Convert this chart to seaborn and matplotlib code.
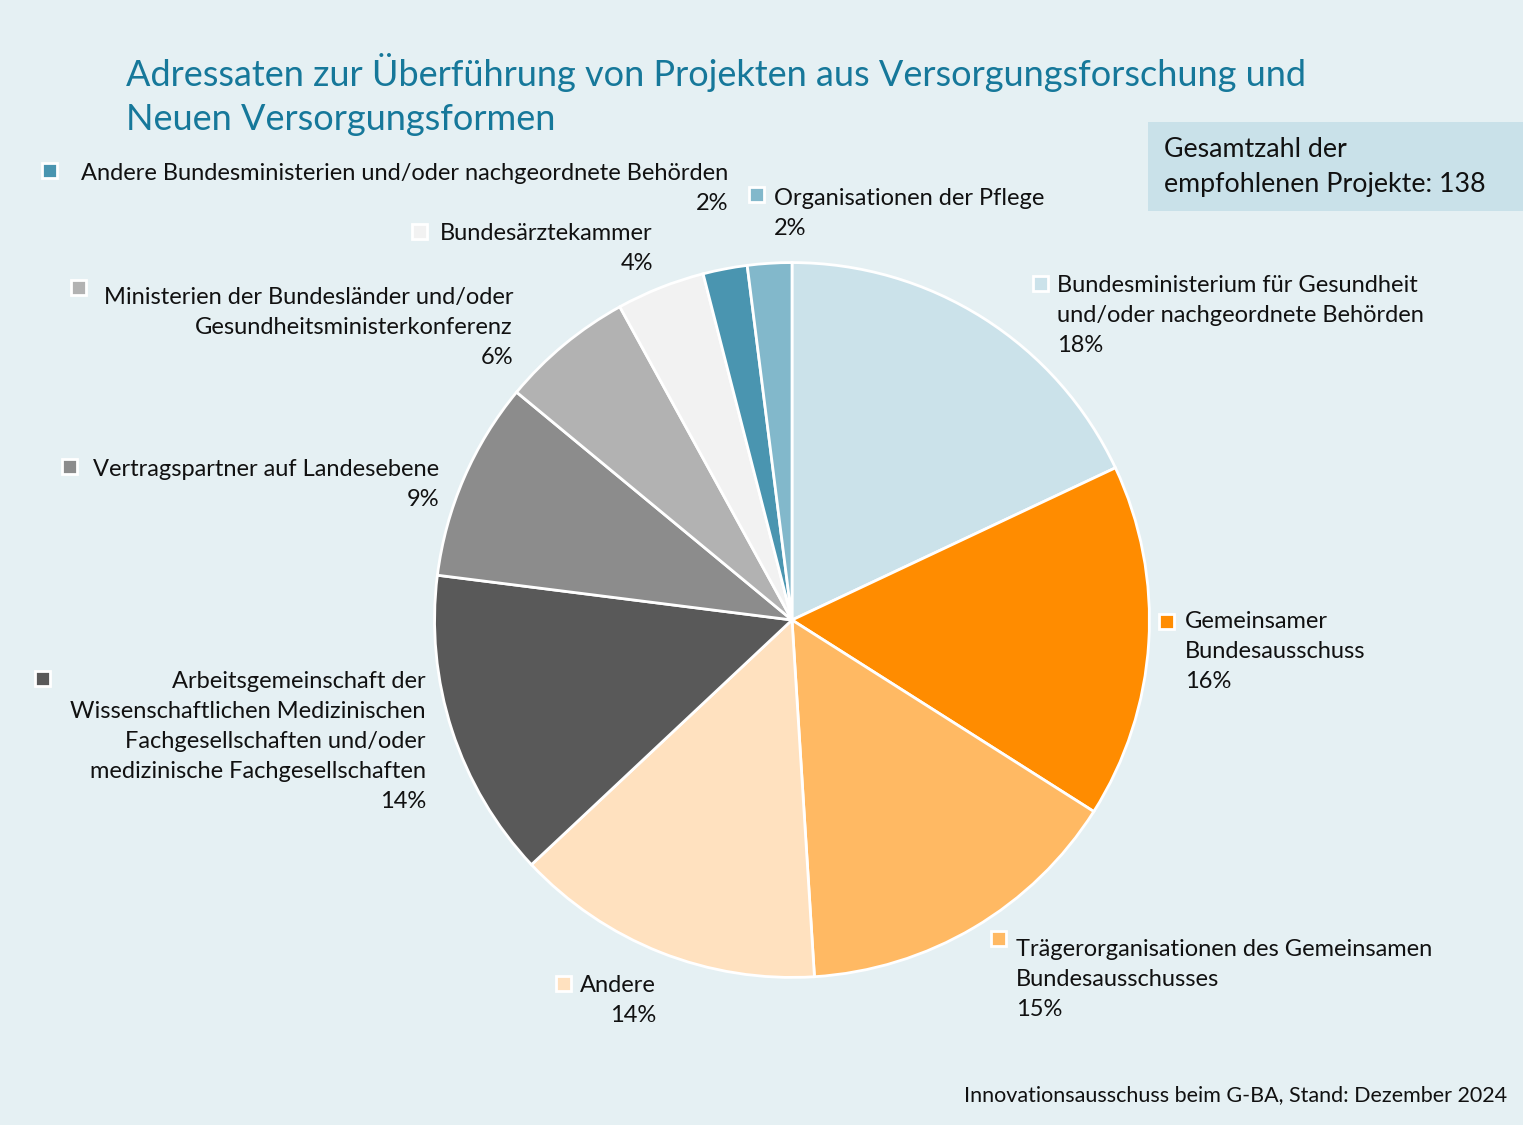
import matplotlib.pyplot as plt
from matplotlib.patches import Rectangle
import seaborn as sns

# data (share of the 138 recommended projects, in %)
categories = [
    'Bundesministerium für Gesundheit\nund/oder nachgeordnete Behörden',
    'Gemeinsamer\nBundesausschuss',
    'Trägerorganisationen des Gemeinsamen\nBundesausschusses',
    'Andere',
    'Arbeitsgemeinschaft der\nWissenschaftlichen Medizinischen\nFachgesellschaften und/oder\nmedizinische Fachgesellschaften',
    'Vertragspartner auf Landesebene',
    'Ministerien der Bundesländer und/oder\nGesundheitsministerkonferenz',
    'Bundesärztekammer',
    'Andere Bundesministerien und/oder nachgeordnete Behörden',
    'Organisationen der Pflege',
]
shares = [18, 16, 15, 14, 14, 9, 6, 4, 2, 2]
slice_colors = ['#cbe2ea', '#ff8c00', '#ffb963', '#ffe1bf', '#595959',
                '#8c8c8c', '#b2b2b2', '#f2f2f2', '#4a95b0', '#82b8cb']

title = 'Adressaten zur Überführung von Projekten aus Versorgungsforschung und\nNeuen Versorgungsformen'
total_note = 'Gesamtzahl der\nempfohlenen Projekte: 138'
source_note = 'Innovationsausschuss beim G-BA, Stand: Dezember 2024'

# label layout in pixels: marker centre, text anchor x, first baseline, alignment
label_layout = [
    ((1040, 283), 1057, 292, 'left'),
    ((1166, 621), 1185, 628, 'left'),
    ((998, 938), 1016, 956, 'left'),
    ((563, 983), 656, 992, 'right'),
    ((42, 678), 426, 688, 'right'),
    ((69, 466), 439, 476, 'right'),
    ((78, 288), 513, 304, 'right'),
    ((419, 231), 653, 240, 'right'),
    ((49, 170), 728, 180, 'right'),
    ((756, 194), 774, 205, 'left'),
]

W, H = 1523, 1125
BG = '#e5f0f3'
TXT = '#111111'

sns.set_theme(style='white', rc={'figure.facecolor': BG, 'axes.facecolor': BG,
                                 'savefig.facecolor': BG})
plt.rcParams['font.family'] = ['Lato', 'DejaVu Sans']


def px(x, y):
    '''pixel position (origin top-left) to figure fraction'''
    return x / W, 1 - y / H


fig = plt.figure(figsize=(W / 100, H / 100), dpi=100)

# pie centred at (792, 620), radius ~357 px
cx, cy, r = 792, 620, 361
ax = fig.add_axes([(cx - r) / W, (H - cy - r) / H, 2 * r / W, 2 * r / H])
ax.pie(shares, colors=slice_colors, startangle=90, counterclock=False,
       radius=1, wedgeprops=dict(edgecolor='white', linewidth=2))
ax.set_xlim(-1.01, 1.01)
ax.set_ylim(-1.01, 1.01)
ax.axis('off')

# title
tx, ty = px(126, 86)
fig.text(tx, ty, title.split('\n')[0], fontsize=26, color='#16789a', ha='left', va='baseline')
tx, ty = px(126, 130)
fig.text(tx, ty, title.split('\n')[1], fontsize=26, color='#16789a', ha='left', va='baseline')

# total box
bx, by = px(1148, 211)
fig.add_artist(Rectangle((bx, by), (W - 1148) / W, (211 - 122) / H,
                         transform=fig.transFigure, facecolor='#c9e1e9', edgecolor='none'))
for i, line in enumerate(total_note.split('\n')):
    x, y = px(1164, 157 + i * 35)
    fig.text(x, y, line, fontsize=19.3, color=TXT, ha='left', va='baseline')

# labels with small square markers
for name, share, col, (mk, ax_x, base, align) in zip(categories, shares, slice_colors, label_layout):
    lines = name.split('\n') + [f'{share}%']
    for i, line in enumerate(lines):
        x, y = px(ax_x, base + i * 30)
        fig.text(x, y, line, fontsize=17, color=TXT, ha=align, va='baseline')
    s = 15
    mx, my = px(mk[0] - s / 2, mk[1] + s / 2)
    fig.add_artist(Rectangle((mx, my), s / W, s / H, transform=fig.transFigure,
                             facecolor=col, edgecolor='white', linewidth=2))

# source
sx, sy = px(1507, 1101)
fig.text(sx, sy, source_note, fontsize=15.5, color=TXT, ha='right', va='baseline')

fig.savefig('out.png', dpi=100)
